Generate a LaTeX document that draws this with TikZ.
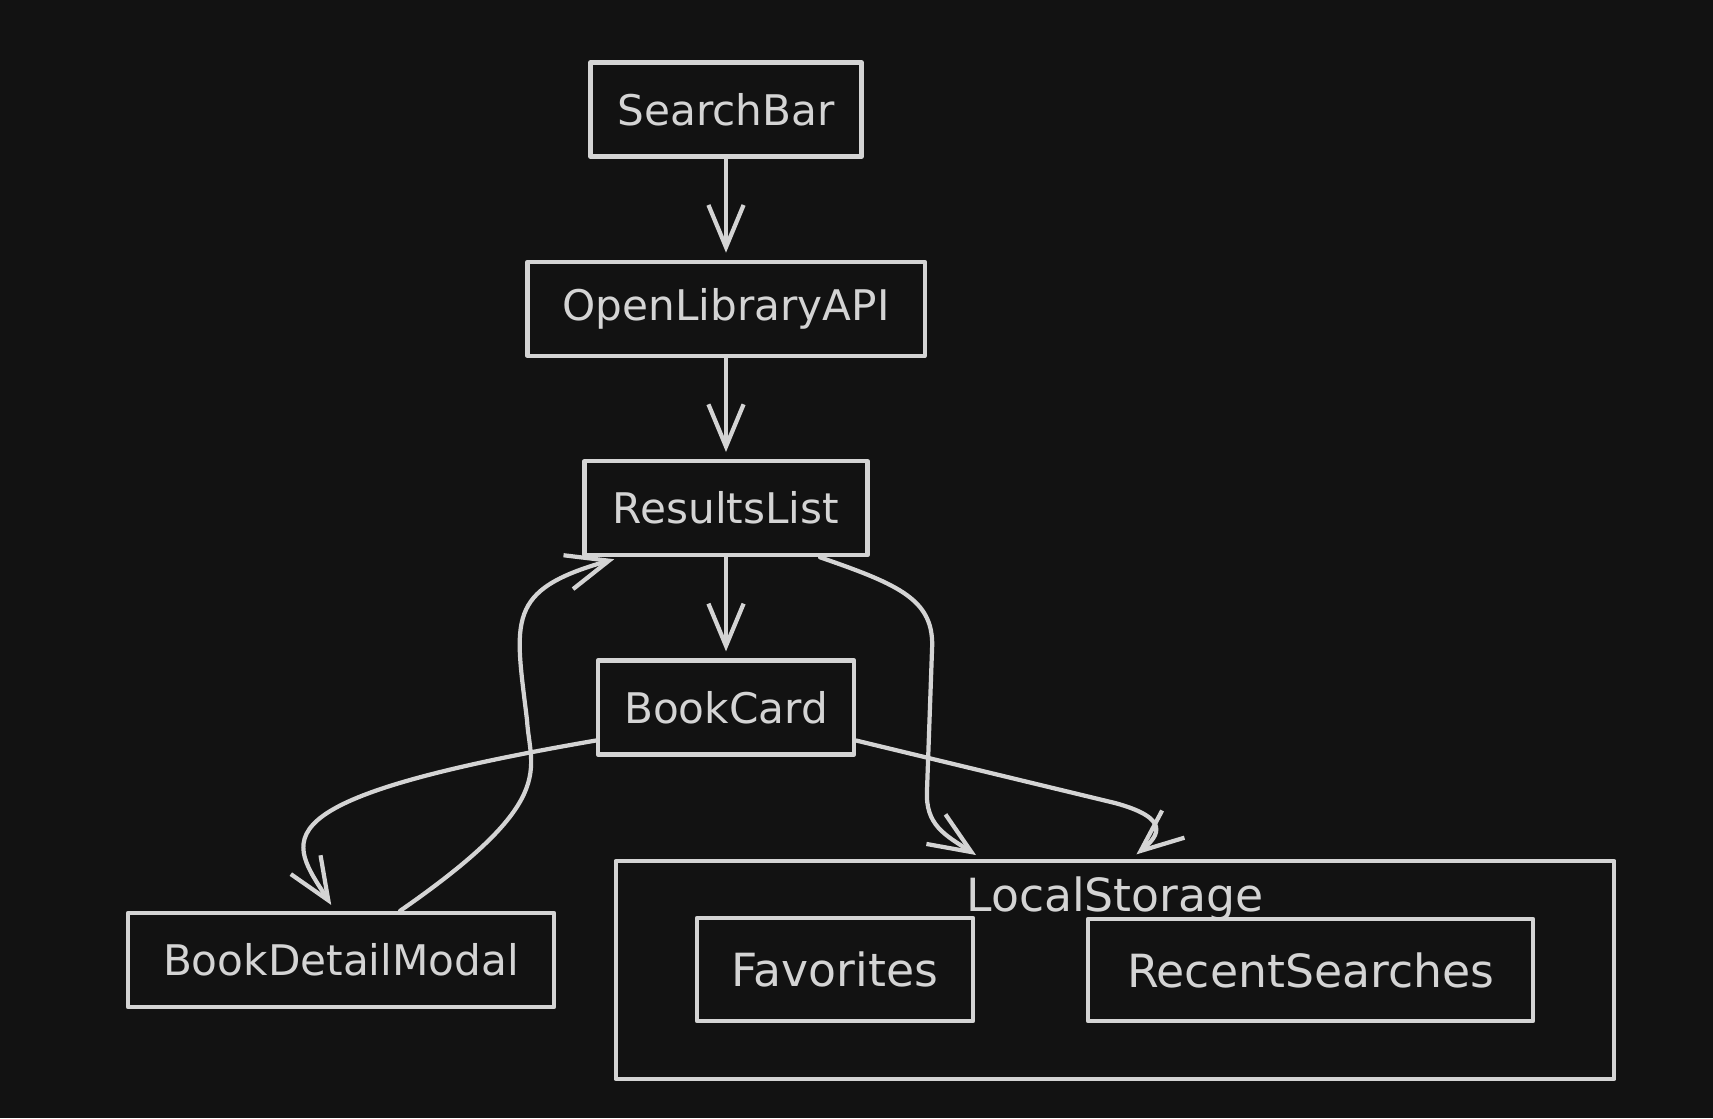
\documentclass[tikz,border=0pt]{standalone}
\usepackage{fontspec}
\setmainfont{DejaVu Sans}
\usepackage{tikz}
\usetikzlibrary{arrows.meta,positioning}
\definecolor{bg}{RGB}{18,18,18}
\definecolor{fg}{RGB}{212,212,212}

\begin{document}
\begin{tikzpicture}
          [x=0.01cm,y=-0.01cm,node distance=10.1mm,line width=1.2pt,line cap=round,line join=round]
          \tikzstyle{comp}=[draw=fg,text=fg,inner sep=0pt,minimum height=9.4mm,font=\fontsize{12}{14}\selectfont]
          \tikzstyle{store}=[comp,font=\fontsize{13}{15}\selectfont]
          \tikzstyle{flow}=[draw=fg,-{Straight Barb[length=12pt,width=10pt]},shorten >=2pt]

          \fill[bg] (0,0) rectangle (1713,1118);

          \node[comp,minimum width=27.1mm] (search) at (726,109.5) {SearchBar};
          \node[comp,minimum width=39.7mm] (api) [below=of search] {OpenLibraryAPI};
          \node[comp,minimum width=28.3mm] (results) [below=of api] {ResultsList};
          \node[comp,minimum width=25.6mm] (card) [below=of results] {BookCard};
          \node[comp,minimum width=42.6mm] (modal) at (341,960) {BookDetailModal};

          % local storage group
          \node[store,minimum width=99.8mm,minimum height=21.8mm] (storage) at (1115,970) {};
          \node[store,draw=none,minimum height=0pt] (storagelbl) at (1115,899) {LocalStorage};
          \node[store,minimum width=27.6mm,minimum height=10.3mm] (fav) at (835,969.5) {Favorites};
          \node[store,minimum width=44.5mm,minimum height=10.2mm] (recent) at (1310.5,970) {RecentSearches};

          \path[flow]
          (search) edge (api)
          (api) edge (results)
          (results) edge (card)
          ;
          \draw[flow] ([yshift=-3.3mm]card.west) .. controls (250,800) and (290,840) .. ([xshift=-0.6mm]modal.north);
          \draw[flow] ([xshift=5.9mm]modal.north) .. controls (560,800) and (530,770) .. (527,720)
            .. controls (515,620) and (505,590) .. ([xshift=-10.5mm]results.south);
          \draw[flow] ([xshift=9.4mm]results.south) .. controls (900,585) and (935,600) .. (932,650)
            -- (927,790) .. controls (925,825) and (945,835) .. ([xshift=-13.3mm]storage.north);
          \draw[flow] ([yshift=-3.3mm]card.east) -- (1115,803) .. controls (1170,818) and (1160,835) .. ([xshift=1.6mm]storage.north);
        \end{tikzpicture}
\end{document}
